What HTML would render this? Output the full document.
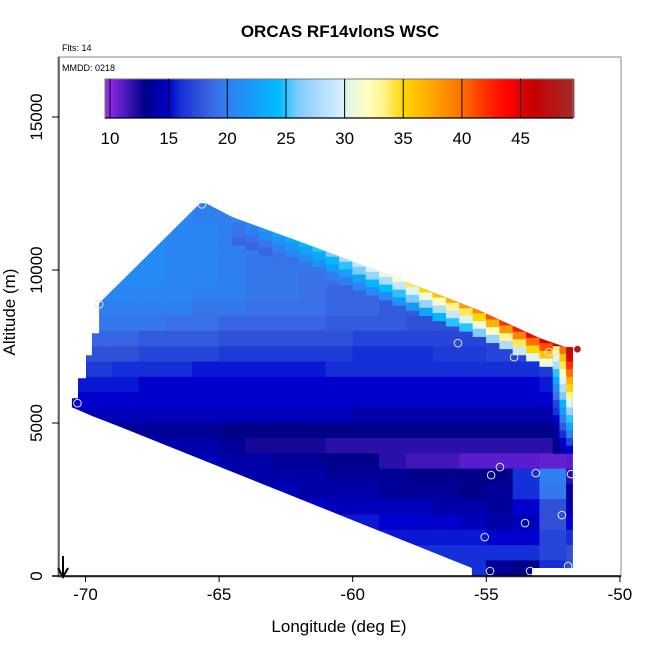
<!DOCTYPE html>
<html><head><meta charset="utf-8"><style>
html,body{margin:0;padding:0;background:#fff}
svg{display:block;font-family:"Liberation Sans",sans-serif}
</style></head><body>
<svg id="chart" width="650" height="650" viewBox="0 0 650 650">
<text x="340" y="37" text-anchor="middle" font-size="17" font-weight="bold">ORCAS RF14vlonS WSC</text>
<text x="62" y="51" font-size="9">Flts: 14</text>
<rect x="58" y="57" width="563" height="520" fill="none" stroke="#888" stroke-width="1"/>
<g id="field"></g>
<g id="pts"></g>
<text x="62" y="71" font-size="9">MMDD: 0218</text>
<g id="cbar"></g>
<g id="axes"></g>
<line x1="63" y1="556" x2="63" y2="575" stroke="#000" stroke-width="2"/>
<path d="M58,568 L63,577 L68,568" fill="none" stroke="#000" stroke-width="2"/>
<text x="339" y="632" text-anchor="middle" font-size="17">Longitude (deg E)</text>
<text transform="translate(15,312) rotate(-90)" text-anchor="middle" font-size="17">Altitude (m)</text>
</svg>
<script>
const xTicks=[-70,-65,-60,-55,-50];
const yTicks=[0,5000,10000,15000];
const cbTicks=[10,15,20,25,30,35,40,45];
// body grid: rows from alt 12000 (top) down to 0, each 500 m; columns lon -71..-52 (1 deg wide)
const rowAlts=[12000,11500,11000,10500,10000,9500,9000,8500,8000,7500,7000,6500,6000,5500,5000,4500,4000,3500,3000,2500,2000,1500,1000,500,0];
const colLons=[-71,-70,-69,-68,-67,-66,-65,-64,-63,-62,-61,-60,-59,-58,-57,-56,-55,-54,-53,-52];
const grid=[
[20,20,20,20,20,20,20,20,20,20,20,20,20,20,20,20,20,20,20,20],
[20.5,20.5,20.5,20.5,20.5,20,20,19.5,19.5,19.5,19,19,19,18.5,18.5,18.5,18.5,18.5,18.5,18.5],
[21,21,21,21,20.5,20.5,20,20,19.5,19.5,19,19,19,18.5,18.5,18.5,18.5,18.5,18.5,18.5],
[21,21,21,21,20.5,20.5,20,20,19.5,19.5,19,19,19,18.5,18.5,18.5,18.5,18.5,18.5,18.5],
[21,21,21,21,20.5,20.5,20,19.5,19.5,19,19,18.5,18.5,18.5,18.5,18.5,18.5,18.5,18.5,18.5],
[21,21,21,21,20.5,20.5,20,19.5,19.5,19,19,18.5,18.5,18,18,18,18,18,18,18],
[20.5,20.5,20.5,20.5,20.5,20,20,19.5,19.5,19,18.5,18.5,18.5,18,18,18,18,18,18,18],
[20,20,20,20,20,19.5,19.5,19,19,19,18.5,18.5,18,18,18,17.5,17.5,17.5,18,18],
[19.5,19.5,19.5,19.5,19,19,18.5,18.5,18.5,18.5,18,18,18,17.5,17.5,17.5,17.5,17.5,18,18],
[18.5,18.5,18.5,18,18,18,17.5,17.5,17.5,17.5,17.5,17,17,17,17,17,17,17.5,18,18],
[17.5,17.5,17.5,17,17,17,16.5,16.5,16.5,16.5,16.5,16,16,16,16.5,16.5,17,17,17.5,18],
[16.5,16.5,16,16,16,15.5,15.5,15.5,15.5,15.5,16,16,16,16,16,16,16,16,16.5,17],
[15.5,15.5,15.5,15,15,15,15,15,15,15,15,15,15,15,15,15,15,15,15.5,16],
[15,15,15,15,15,15,15,15,15,15,15,15,15,15,15,15,15,15,15,15.5],
[14.5,14.5,14.5,14.5,14.5,14.5,14.5,14.5,14.5,14.5,14.5,14,14,14,14,14,14,14,14,15],
[13.5,13.5,13.5,13.5,13.5,13.5,13,13,13,13,13,13,13,13,13,13,13,13,13,14],
[14,14,14,14,14,14,13.5,12.5,12.5,12.5,12,12,12,12,12,12,12,12,12,13],
[14.5,14.5,14.5,14.5,14.5,14.5,14,14,13.5,13.5,13,13,12,11.5,11.5,11,11,11,10.8,11],
[14.5,14.5,14.5,14.5,14.5,14.5,14,14,14,14,13.5,13.5,13.5,13,13,13,13,16,20,12],
[14.5,14.5,14.5,14.5,14.5,14.5,14.5,14.5,14.5,14,14,14,13.5,13.5,13.5,13,13.5,16,19.5,13.5],
[15,15,15,15,15,15,15,15,15,15,14.5,14.5,14.5,14.5,14,14,13.5,15,17.5,14],
[15.5,15.5,15.5,15.5,15.5,15.5,15.5,15.5,15.5,15.5,15.5,15.5,15,15,15,14.5,14,14.5,17.5,15],
[15.5,15.5,15.5,15.5,15.5,15.5,15.5,15.5,15.5,15.5,15.5,15.5,15.5,15.5,15.5,15.5,15,15,17,16],
[16,16,16,16,16,16,16,16,16,16,16,16,16,16,16,16,16,16,17,17.5],
[16,16,16,16,16,16,16,16,16,16,16,16,16,16,16,16,13.5,13,16,17.5]
];
// hot strip along the top boundary: lon samples (0.5 deg wide), 4 layers of 250 m below top
const edgeLons=[-64.5,-64,-63.5,-63,-62.5,-62,-61.5,-61,-60.5,-60,-59.5,-59,-58.5,-58,-57.5,-57,-56.5,-56,-55.5,-55,-54.5,-54,-53.5,-53,-52.5,-52];
const edge0=[20.5,21,22,23,23.5,24,25,26,28,29,30,31,32,34,35,36,37,38,39,41,42,43,44,45,46,47];
const edge1=[19.5,20,21,21.5,22,22.5,23,24,25,26,27,28,29,30,31,32,33,34,35,37,38,39,40,41,42,44];
const edge2=[19,19,19.5,20,20.5,21,21.5,22,22.5,23,24,24.5,25,26,27,28,29,30,31,32,33,34,35,36,38,40];
const edge3=[18.5,18.5,18.5,19,19,19.5,19.5,20,20,20.5,21,21,22,22,23,24,25,25,26,27,28,29,30,31,32,33];
// right-edge strip: rows of 250 m starting at 7250 going down, 3 sub-columns
const rStripAlts=[7250,7000,6750,6500,6250,6000,5750,5500,5250,5000,4750,4500,4250,4000];
const rStripLons=[-52.5,-52.25,-52.0];
const rStripA=[33,30,28,25,23,21,19,17,16,15,14,14,13,13];
const rStripB=[40,36,34,32,30,28,26,24,22,20,18,16,15,14];
const rStripC=[47,45,42,40,37,35,33,30,27,25,23,20,17,15];
// data coverage boundary (lon, alt)
const bndLon=[-69.49,-65.71,-65.49,-64.48,-61.41,-58.34,-55.28,-52.99,-52.02,-51.76,-51.76,-53.29,-53.29,-55.54,-55.54,-69.05,-69.74,-70.51,-70.51,-70.28,-70.28,-69.98,-69.98,-69.76,-69.76,-69.49,-69.49];
const bndAlt=[8913,12180,12180,11720,10741,9729,8684,7770,7476,7476,261,261,-30,-30,261,4995,5224,5517,5811,5811,6464,6464,7215,7215,7933,7933,8913];
// flight sample points
const ptLon=[-65.64,-69.49,-70.30,-56.06,-53.96,-52.65,-51.59,-54.49,-54.82,-53.15,-51.83,-52.17,-53.55,-55.06,-54.86,-53.36,-51.94];
const ptAlt=[12145,8880,5648,7607,7150,7313,7411,3559,3297,3363,3330,1991,1730,1273,163,163,326];
const ptVal=[20,20.5,15,19,18,30,48,11.5,13,22,11,19,14,17,14,11,20];

const NS='http://www.w3.org/2000/svg';
const X=l=>85.5+(l+70)*26.72;
const Y=a=>576-a*0.0306;
const stops=[[9.5,'#9b30e8'],[10,'#8a2be2'],[11,'#5a1ccc'],[12,'#2a10a8'],[13,'#000088'],[14,'#0000a8'],[15,'#0000cd'],[16,'#1530d8'],[17.5,'#3050d8'],[19,'#3a70e8'],[20,'#2e80f0'],[22,'#1898f8'],[24.5,'#00bfff'],[26,'#80ccff'],[28,'#b0dcff'],[29.8,'#d8f0ff'],[30.2,'#e0f8e8'],[32,'#ffffc0'],[33.5,'#fff080'],[35,'#ffd700'],[37,'#ffb000'],[40,'#ff7000'],[42,'#ff3000'],[44,'#ff0000'],[45,'#e00000'],[46,'#c80000'],[49.5,'#a52a2a']];
function hex(h){return [1,3,5].map(i=>parseInt(h.substr(i,2),16));}
function col(v){
  if(v<=stops[0][0])return stops[0][1];
  for(let i=1;i<stops.length;i++){if(v<=stops[i][0]){const a=stops[i-1],b=stops[i];const t=(v-a[0])/(b[0]-a[0]);const c1=hex(a[1]),c2=hex(b[1]);return 'rgb('+c1.map((c,k)=>Math.round(c+(c2[k]-c)*t)).join(',')+')';}}
  return stops[stops.length-1][1];
}
function mk(tag,attrs,parent){const e=document.createElementNS(NS,tag);for(const k in attrs)e.setAttribute(k,attrs[k]);parent.appendChild(e);return e;}
const svg=document.getElementById('chart');
const defs=mk('defs',{},svg);
const cp=mk('clipPath',{id:'clip'},defs);
mk('polygon',{points:bndLon.map((l,i)=>X(l).toFixed(1)+','+Y(bndAlt[i]).toFixed(1)).join(' ')},cp);
const field=document.getElementById('field');
const fg=mk('g',{'clip-path':'url(#clip)'},field);
rowAlts.forEach((a,r)=>{colLons.forEach((l,c)=>{
  const e=mk('rect',{x:X(l)-0.3,y:Y(a+500)-0.3,width:X(l+1)-X(l)+0.6,height:Y(a)-Y(a+500)+0.6,fill:col(grid[r][c])},fg);
  
  
});});
function topAlt(l){
  for(let i=2;i<9;i++){const a=bndLon[i],b=bndLon[i+1];if(l>=a&&l<=b){return bndAlt[i]+(bndAlt[i+1]-bndAlt[i])*(l-a)/(b-a);}}
  return bndAlt[9];
}
const layers=[edge0,edge1,edge2,edge3];
edgeLons.forEach((l,i)=>{
  const t=topAlt(l+0.25)+150;
  layers.forEach((arr,k)=>{
    const aTop=t-k*250;
    const e=mk('rect',{x:X(l)-0.3,y:Y(aTop)-0.3,width:X(l+0.5)-X(l)+0.6,height:Y(aTop-250)-Y(aTop)+0.6,fill:col(arr[i])},fg);
    
    
  });
});
const rs=[rStripA,rStripB,rStripC];
rStripLons.forEach((l,c)=>{rStripAlts.forEach((a,r)=>{
  const e=mk('rect',{x:X(l)-0.3,y:Y(a+250)-0.3,width:X(l+0.25)-X(l)+0.6,height:Y(a)-Y(a+250)+0.6,fill:col(rs[c][r])},fg);
  
  
});});
const pts=document.getElementById('pts');
ptLon.forEach((l,i)=>{
  const e=mk('circle',{cx:X(l),cy:Y(ptAlt[i]),r:3.8,fill:ptVal[i]>40?col(ptVal[i]):'none',stroke:'#dde4ff','stroke-width':1},pts);
  
  
});
// colorbar
const cb=document.getElementById('cbar');
const CX=v=>110+(v-10)*11.73;
for(let v=9.56;v<49.45;v+=0.2){
  const e=mk('rect',{x:CX(v),y:79,width:11.73*0.2+0.4,height:39,fill:col(v+0.1)},cb);
  
  
}
mk('rect',{x:105,y:79,width:468,height:39,fill:'none',stroke:'#777','stroke-width':1},cb);
cbTicks.forEach(v=>{
  const ln=mk('line',{x1:CX(v),y1:79,x2:CX(v),y2:118,stroke:'#000','stroke-width':1},cb);
  
  
  const t=mk('text',{x:CX(v),y:144,'text-anchor':'middle','font-size':17},cb);
  t.textContent=v;
  
  
});
mk('line',{x1:105,y1:118,x2:573,y2:118,stroke:'#000','stroke-width':1.2},cb);
// axes
const ax=document.getElementById('axes');
mk('line',{x1:52,y1:576,x2:621,y2:576,stroke:'#000','stroke-width':1.5},ax);
mk('line',{x1:59,y1:57,x2:59,y2:577,stroke:'#555','stroke-width':1.5},ax);
xTicks.forEach(v=>{
  const ln=mk('line',{x1:X(v),y1:576,x2:X(v),y2:582,stroke:'#000'},ax);
  
  
  const t=mk('text',{x:X(v),y:600,'text-anchor':'middle','font-size':17},ax);
  t.textContent=v;
  
  
});
yTicks.forEach(v=>{
  const ln=mk('line',{x1:52,y1:Y(v),x2:59,y2:Y(v),stroke:'#000'},ax);
  
  
  const t=mk('text',{transform:'translate(42,'+Y(v)+') rotate(-90)','text-anchor':'middle','font-size':17},ax);
  t.textContent=v;
  
  
});
</script>
</body></html>
